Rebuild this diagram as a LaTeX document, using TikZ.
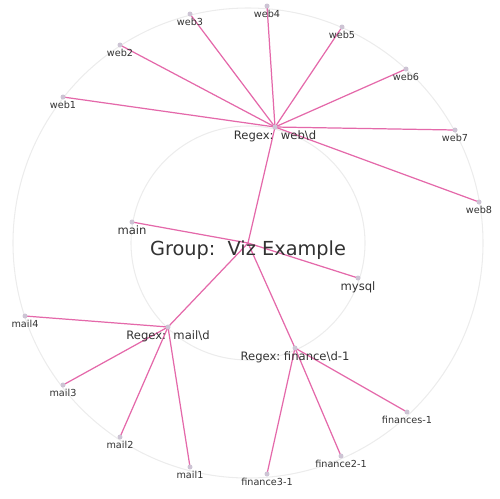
\documentclass[tikz,border=0pt]{standalone}
\usepackage{fontspec}
\setmainfont{DejaVu Sans}
\usetikzlibrary{backgrounds}
\definecolor{edgepink}{RGB}{228,105,170}
\definecolor{dotgray}{RGB}{205,196,212}
\definecolor{ringgray}{RGB}{236,236,236}
\definecolor{txtgray}{RGB}{50,50,50}
\tikzset{
  vdot/.style={circle, fill=dotgray, inner sep=0pt, minimum size=0.1cm,
               label distance=0.05cm},
  leaflbl/.style={font=\fontsize{5.5}{6}\selectfont, text=txtgray, inner sep=0.5pt},
  hublbl/.style={font=\fontsize{6.6}{7}\selectfont, text=txtgray, inner sep=0.5pt},
  leaf/.style={vdot, label={[leaflbl]below:#1}},
  hub/.style={vdot, label={[hublbl]below:#1}},
  link/.style={draw=edgepink, line width=0.7pt},
  ring/.style={draw=ringgray, line width=0.6pt},
}
\newcommand{\bs}{\textbackslash}

\begin{document}
\begin{tikzpicture}[x=0.02cm, y=-0.02cm]
  \useasboundingbox (0,0) rectangle (500,498);

  % centre
  \node[circle, inner sep=0pt, minimum size=0.1cm,
        label={[font=\fontsize{11}{13}\selectfont, text=txtgray, inner sep=0pt, yshift=-0.14cm]center:Group:\ \ Viz Example}]
        (grp) at (248,243) {};

  % inner ring
  \node[hub=Regex:\ \ web\bs d] (rweb) at (275,127) {};
  \node[hub=main] (main) at (132,222) {};
  \node[hub=mysql] (mysql) at (358,278) {};
  \node[hub=Regex:\ \ mail\bs d] (rmail) at (168,327) {};
  \node[hub=Regex:\ finance\bs d-1] (rfin) at (295,348) {};

  % outer ring
  \node[leaf=web1] (web1) at (63,97) {};
  \node[leaf=web2] (web2) at (120,45) {};
  \node[leaf=web3] (web3) at (190,14) {};
  \node[leaf=web4] (web4) at (267,6) {};
  \node[leaf=web5] (web5) at (342,27) {};
  \node[leaf=web6] (web6) at (406,69) {};
  \node[leaf=web7] (web7) at (455,130) {};
  \node[leaf=web8] (web8) at (479,202) {};
  \node[leaf=mail4] (mail4) at (25,316) {};
  \node[leaf=mail3] (mail3) at (63,385) {};
  \node[leaf=mail2] (mail2) at (120,437) {};
  \node[leaf=mail1] (mail1) at (190,467) {};
  \node[leaf=finances-1] (fin1) at (407,412) {};
  \node[leaf=finance2-1] (fin2) at (341,456) {};
  \node[leaf=finance3-1] (fin3) at (267,474) {};

  \begin{scope}[on background layer]
    \draw[ring] (grp.center) circle[radius=117];
    \draw[ring] (grp.center) circle[radius=235];
    \foreach \n in {rweb,main,mysql,rmail,rfin}
      \draw[link] (grp.center) -- (\n.center);
    \foreach \n in {web1,web2,web3,web4,web5,web6,web7,web8}
      \draw[link] (rweb.center) -- (\n.center);
    \foreach \n in {mail1,mail2,mail3,mail4}
      \draw[link] (rmail.center) -- (\n.center);
    \foreach \n in {fin1,fin2,fin3}
      \draw[link] (rfin.center) -- (\n.center);
  \end{scope}
\end{tikzpicture}
\end{document}
